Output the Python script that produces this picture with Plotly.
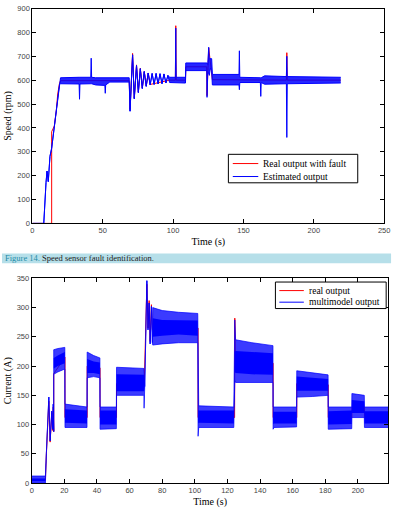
import plotly.graph_objects as go

# ---------------- Figure 14 (top): speed ----------------
# Estimated output envelope (time, lower edge, upper edge)
speed_t = [0, 8.1, 9.7, 10.4, 11.3, 12.5, 13.7, 15.6, 17.0, 18.0, 19.3, 20.0,
           33.2, 33.5, 33.8, 41.5, 41.8, 42.1, 45.0, 51.5, 51.8, 52.1, 55.0, 68.8,
           69.4, 71.2, 72.4, 74.0, 75.3, 76.7, 78.1, 79.5, 80.9, 82.3, 83.7, 85.1,
           86.5, 87.9, 89.3, 90.7, 92.1, 93.5, 94.9, 96.3, 97.5, 101.6, 101.9, 102.2,
           108.8, 109.0, 123.9, 124.1, 124.6, 125.3, 125.7, 126.5, 127.4, 127.9,
           146.8, 147.1, 147.4, 162.0, 162.3, 162.6, 165.0, 180.5, 180.8, 181.1, 219.1]
speed_lo = [0, 0, 171, 219, 175, 281, 315, 405, 470, 540, 585, 585,
            584, 520, 584, 585, 585, 585, 580, 578, 545, 580, 592, 592,
            470, 706, 522, 661, 548, 648, 565, 636, 574, 630, 580, 628,
            582, 628, 584, 627, 585, 626, 588, 620, 590, 590, 590, 590,
            588, 640, 640, 528, 630, 630, 620, 650, 640, 580,
            580, 560, 590, 590, 532, 590, 583, 585, 360, 585, 588]
speed_hi = [0, 0, 171, 219, 175, 281, 315, 405, 470, 540, 590, 610,
            612, 612, 612, 612, 692, 612, 610, 610, 610, 610, 610, 610,
            470, 706, 522, 661, 548, 648, 565, 636, 574, 630, 580, 628,
            582, 628, 584, 627, 585, 626, 588, 620, 612, 612, 818, 612,
            612, 672, 672, 672, 665, 738, 690, 690, 690, 624,
            624, 723, 612, 610, 610, 610, 618, 615, 700, 615, 612]

# Real output with fault
real_speed_t = [0, 13.7, 13.7, 15.6, 17.0, 18.0, 19.3, 20.0, 68.8, 69.4, 71.2, 72.4,
                74.0, 75.3, 76.7, 78.1, 79.5, 80.9, 82.3, 83.7, 97.5, 101.6, 101.9,
                102.2, 108.8, 109.0, 123.9, 124.1, 125.3, 127.9, 180.5, 180.8, 181.1, 219.1]
real_speed_v = [0, 0, 384, 408, 472, 542, 587, 598, 598, 478, 712, 525,
                664, 550, 650, 567, 636, 576, 630, 582, 600, 600, 828,
                600, 600, 656, 656, 535, 735, 602, 600, 715, 600, 600]

# ---------------- bottom chart: current ----------------
cur_t = [0.0, 8.4, 9.0, 9.9, 10.5, 11.3, 12.3, 12.8, 13.2, 13.5,
         13.5, 16.0, 20.3, 20.4, 33.9, 34.0, 38.0, 41.8, 41.9, 51.9, 52.0, 68.8,
         68.9, 69.3, 70.0, 70.6, 71.3, 72.0, 72.6, 73.4, 74.0,
         74.2, 80.0, 90.0, 101.8, 102.0, 102.4, 123.9, 124.1, 124.5, 125.0, 135.0,
         147.9, 148.0, 148.5, 162.4, 162.5, 172.0, 181.7, 181.8, 196.2, 196.3,
         203.9, 204.0, 218.7]
cur_out_lo = [0, 0, 52, 116, 147, 72, 123, 92, 135, 88,
              186, 190, 195, 95, 95, 180, 182, 180, 92, 93, 150, 150,
              128, 165, 260, 346, 262, 308, 238, 302, 240,
              236, 238, 240, 240, 80, 95, 95, 168, 175, 172, 172,
              172, 92, 95, 96, 147, 148, 150, 92, 93, 112,
              112, 95, 95]
cur_core_lo = [3, 3, 52, 116, 147, 72, 123, 92, 135, 88,
               196, 200, 205, 103, 102, 188, 188, 186, 100, 100, 157, 157,
               157, 165, 260, 346, 262, 308, 238, 302, 240,
               250, 252, 254, 252, 102, 103, 102, 190, 190, 188, 186,
               185, 101, 102, 102, 158, 158, 158, 100, 101, 120,
               120, 102, 102]
cur_core_hi = [8, 8, 52, 116, 147, 72, 123, 92, 135, 88,
               214, 218, 224, 126, 124, 212, 208, 206, 124, 124, 186, 185,
               185, 165, 260, 346, 262, 308, 238, 302, 240,
               282, 279, 278, 278, 125, 124, 124, 225, 225, 226, 224,
               222, 122, 122, 122, 182, 180, 178, 123, 124, 142,
               140, 123, 123]
cur_out_hi = [12, 12, 52, 116, 147, 72, 123, 92, 135, 88,
              228, 230, 232, 135, 130, 224, 218, 214, 130, 130, 198, 196,
              190, 165, 260, 346, 262, 308, 238, 302, 240,
              300, 295, 292, 290, 135, 132, 130, 240, 279, 245, 240,
              235, 130, 130, 130, 192, 188, 185, 130, 130, 153,
              150, 130, 130]

real_cur_t = [0, 8.4, 9.0, 9.9, 10.5, 11.3, 12.3, 12.8, 13.2, 13.5, 13.5, 20.4, 20.4,
              34.0, 34.0, 41.9, 41.9, 52.0, 52.0, 69.0, 70.6, 71.3, 72.0, 72.6, 73.4,
              74.0, 102.0, 102.0, 124.4, 124.5, 125.0, 148.0, 148.0, 162.5, 162.5,
              181.8, 181.8, 196.3, 196.3, 204.0, 204.0, 218.7]
real_cur_v = [5, 5, 50, 112, 140, 70, 120, 90, 130, 88, 187, 215, 112,
              112, 200, 197, 112, 112, 170, 168, 340, 265, 312, 242, 305,
              262, 265, 112, 112, 282, 205, 205, 112, 112, 170,
              168, 112, 112, 130, 130, 112, 112]

speed_ticks = [0, 50, 100, 150, 200, 250]
speed_yticks = [0, 100, 200, 300, 400, 500, 600, 700, 800, 900]
cur_ticks = [0, 20, 40, 60, 80, 100, 120, 140, 160, 180, 200]
cur_yticks = [0, 50, 100, 150, 200, 250, 300, 350]

top_legend_names = ["Real output with fault", "Estimated output"]
bottom_legend_names = ["real output", "multimodel output"]

RED = "#ff0000"
BLUE = "#0000ff"
SERIF = "Liberation Serif"
SANS = "Liberation Sans"
W, H = 400, 513


def px(x):
    return x / W


def py(y):
    return (H - y) / H


fig = go.Figure()

# top chart
fig.add_trace(go.Scatter(x=real_speed_t, y=real_speed_v, mode="lines",
                         line=dict(color=RED, width=1), name=top_legend_names[0],
                         showlegend=False, xaxis="x", yaxis="y"))
fig.add_trace(go.Scatter(x=speed_t, y=speed_lo, mode="lines",
                         line=dict(color=BLUE, width=1), name=top_legend_names[1],
                         showlegend=False, xaxis="x", yaxis="y"))
fig.add_trace(go.Scatter(x=speed_t, y=speed_hi, mode="lines", fill="tonexty",
                         fillcolor="rgba(0,0,255,0.85)", line=dict(color=BLUE, width=1),
                         name=top_legend_names[1], showlegend=False, xaxis="x", yaxis="y"))

# bottom chart
fig.add_trace(go.Scatter(x=real_cur_t, y=real_cur_v, mode="lines",
                         line=dict(color=RED, width=1), name=bottom_legend_names[0],
                         showlegend=False, xaxis="x2", yaxis="y2"))
fig.add_trace(go.Scatter(x=cur_t, y=cur_out_lo, mode="lines",
                         line=dict(color="rgba(0,0,255,0.9)", width=0.8), name=bottom_legend_names[1],
                         showlegend=False, xaxis="x2", yaxis="y2"))
fig.add_trace(go.Scatter(x=cur_t, y=cur_out_hi, mode="lines", fill="tonexty",
                         fillcolor="rgba(10,10,255,0.8)", line=dict(color="rgba(0,0,255,0.9)", width=0.8),
                         name=bottom_legend_names[1], showlegend=False, xaxis="x2", yaxis="y2"))
fig.add_trace(go.Scatter(x=cur_t, y=cur_core_lo, mode="lines",
                         line=dict(color=BLUE, width=0), name=bottom_legend_names[1],
                         showlegend=False, xaxis="x2", yaxis="y2"))
fig.add_trace(go.Scatter(x=cur_t, y=cur_core_hi, mode="lines", fill="tonexty",
                         fillcolor="rgba(0,0,255,1)", line=dict(color=BLUE, width=0),
                         name=bottom_legend_names[1], showlegend=False, xaxis="x2", yaxis="y2"))

axis_common = dict(showline=True, linecolor="black", linewidth=1, mirror="ticks",
                   ticks="inside", ticklen=4, tickcolor="black", showgrid=False,
                   zeroline=False, tickfont=dict(family=SANS, size=7.5, color="#444"))
title_font = dict(family=SERIF, size=10, color="black")

# legend boxes drawn as shapes + text
shapes = [dict(type="rect", xref="paper", yref="paper", x0=0, x1=px(397),
               y0=py(264), y1=py(254), fillcolor="#b6dfe9", line=dict(width=0),
               layer="below")]
annotations = [dict(xref="paper", yref="paper", x=px(1.5), y=py(259),
                    xanchor="left", yanchor="middle", showarrow=False,
                    text="<span style='color:#1f8ca8'>Figure 14.</span> Speed sensor fault identification.",
                    font=dict(family=SERIF, size=8.5, color="#222"))]


def add_legend(box, rows, names, colors, line_x):
    x0, y0, x1, y1 = box
    shapes.append(dict(type="rect", xref="paper", yref="paper", x0=px(x0), x1=px(x1),
                       y0=py(y1), y1=py(y0), fillcolor="white",
                       line=dict(color="black", width=1)))
    for yy, name, col in zip(rows, names, colors):
        shapes.append(dict(type="line", xref="paper", yref="paper",
                           x0=px(line_x[0]), x1=px(line_x[1]), y0=py(yy), y1=py(yy),
                           line=dict(color=col, width=1)))
        annotations.append(dict(xref="paper", yref="paper", x=px(line_x[1] + 3), y=py(yy),
                                xanchor="left", yanchor="middle", showarrow=False,
                                text=name, font=dict(family=SERIF, size=9.5, color="black")))


add_legend((231, 153, 363, 182), (162.4, 175.6), top_legend_names, (RED, BLUE), (235.5, 261.5))
add_legend((279, 283, 392, 310), (291.7, 303.5), bottom_legend_names, (RED, BLUE), (283, 308))

fig.update_layout(
    width=W, height=H,
    margin=dict(l=0, r=0, t=0, b=0),
    paper_bgcolor="white", plot_bgcolor="white",
    showlegend=False,
    xaxis=dict(domain=[0.0775, 0.975], range=[0, 250], tickvals=speed_ticks,
               anchor="y", title=dict(text="Time (s)", font=title_font, standoff=3),
               **axis_common),
    yaxis=dict(domain=[0.5647, 0.9910], range=[0, 900], tickvals=speed_yticks,
               anchor="x", title=dict(text="Speed (rpm)", font=title_font, standoff=3),
               **axis_common),
    xaxis2=dict(domain=[0.0758, 0.9858], range=[0, 218.7], tickvals=cur_ticks,
                anchor="y2", title=dict(text="Time (s)", font=title_font, standoff=3),
                **axis_common),
    yaxis2=dict(domain=[0.0495, 0.4556], range=[0, 350], tickvals=cur_yticks,
                anchor="x2", title=dict(text="Current (A)", font=title_font, standoff=3),
                **axis_common),
    shapes=shapes,
    annotations=annotations,
)

fig.write_html("out.html")
